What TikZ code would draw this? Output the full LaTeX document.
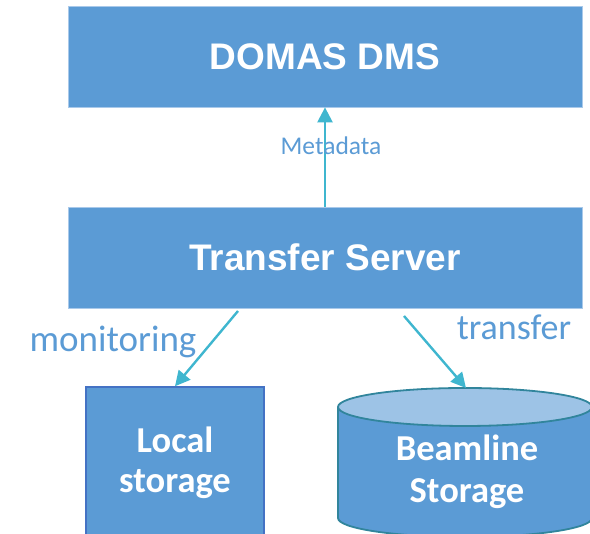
\documentclass[tikz,border=0pt]{standalone}
\usepackage{fontspec}
\setmainfont{Carlito}
\newfontfamily\arialfont{Liberation Sans}
\usetikzlibrary{arrows.meta}
\definecolor{boxblue}{HTML}{5B9BD5}
\definecolor{boxedge}{HTML}{A9C9EA}
\definecolor{darkedge}{HTML}{4472C4}
\definecolor{cylteal}{HTML}{31859C}
\definecolor{cyltop}{HTML}{9DC3E6}
\definecolor{arrowcol}{HTML}{3FB6CF}
\definecolor{labelcol}{HTML}{5B9BD5}
\tikzset{
  bigbox/.style={fill=boxblue, draw=boxedge, line width=0.8pt, inner sep=0pt,
    minimum width=514pt, minimum height=101pt, text=white,
    font=\arialfont\bfseries\fontsize{37}{44}\selectfont},
  storebox/.style={fill=boxblue, draw=darkedge, line width=1.5pt, inner sep=0pt,
    minimum width=178pt, minimum height=150pt},
  storetext/.style={text=white, anchor=base, inner sep=0pt,
    font=\bfseries\fontsize{36.5}{44}\selectfont},
  flow/.style={draw=arrowcol, line width=2.4pt,
    -{Triangle[length=15pt,width=15pt]}},
  flowlabel/.style={text=labelcol, anchor=base, inner sep=0pt}
}
\begin{document}
\begin{tikzpicture}[x=1pt,y=1pt]
\useasboundingbox (0,0) rectangle (590,534);
% boxes
\node[bigbox] (dms) at (325,477.5) {DOMAS DMS};
\node[bigbox] (ts) at (325,276.5) {Transfer Server};
\node[storebox] (local) at (175,72) {};
\node[storetext] (localA) at (175,81) {Local};
\node[storetext] (localB) at (175,41) {storage};
% cylinder
\path[fill=boxblue, draw=cylteal, line width=1.8pt]
  (338,127) -- (338,16) arc[start angle=180, end angle=360, x radius=127, y radius=19]
  -- (592,127);
\draw[fill=cyltop, draw=cylteal, line width=1.8pt] (465,127) ellipse [x radius=127, y radius=19];
\coordinate (beam) at (466,146);
\node[storetext] (beamA) at (467,73) {Beamline};
\node[storetext] (beamB) at (467,31) {Storage};
% connectors
\coordinate (ms) at (238,223);
\coordinate (tsx) at (404,218);
\draw[flow] (ts.north) -- (dms.south);
\draw[flow] (ms) -- (local.north);
\draw[flow] (tsx) -- (beam);
% labels
\node[flowlabel, font=\fontsize{25.5}{30}\selectfont] (meta) at (331,379) {Metadata};
\node[flowlabel, font=\fontsize{37}{44}\selectfont] (mon) at (113,182) {monitoring};
\node[flowlabel, font=\fontsize{36}{43}\selectfont] (tr) at (514,194) {transfer};
\end{tikzpicture}
\end{document}
